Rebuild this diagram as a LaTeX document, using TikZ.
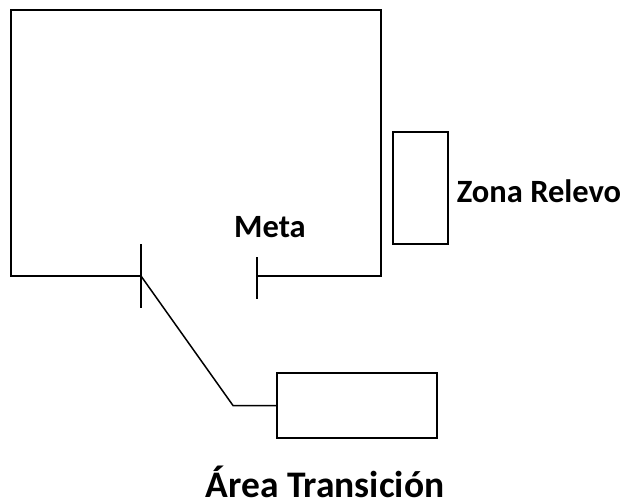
\documentclass[tikz,border=0pt]{standalone}
\usepackage{fontspec}
\setmainfont{Carlito}
\usetikzlibrary{calc}

\tikzset{
  wall/.style={line width=1.5pt},
  zonebox/.style={draw,line width=1.5pt,rectangle,inner sep=0pt},
  label/.style={font=\bfseries\fontsize{32.5}{38}\selectfont,anchor=base,inner sep=0pt}
}

\begin{document}
\begin{tikzpicture}[x=1pt,y=-1pt]
        \useasboundingbox (0,0) rectangle (622,504);
        % Track corners and start points
        \coordinate (tl) at (11,10);
        \coordinate (tr) at (381,10);
        \coordinate (bl) at (11,276);
        \coordinate (br) at (381,276);
        \coordinate (start) at (141,276);
        \coordinate (goal) at (257,276);
        \coordinate (bend) at (233,405.5);
        % Draw the track
        \draw[wall] (start) -- (bl) -- (tl) -- (tr) -- (br) -- (goal);
        % Draw ticks
        \draw[wall] (141,244) -- (141,308);
        \draw[wall] (257,257) -- (257,299);
        % Draw boxes
        \node[zonebox,minimum width=55pt,minimum height=112pt] (relevo) at (420.5,188) {};
        \node[zonebox,minimum width=160pt,minimum height=65pt] (transicion) at (357,405.5) {};
        % Path to transition area
        \draw[wall] (start) -- (bend) -- (transicion.west);
        % Labels
        \node[label] (meta) at (270,237) {Meta};
        \node[label] (zona) at (539,202) {Zona Relevo};
        \node[label,font=\bfseries\fontsize{37.5}{44}\selectfont] (area) at (325,497) {Área Transición};
    \end{tikzpicture}
\end{document}
